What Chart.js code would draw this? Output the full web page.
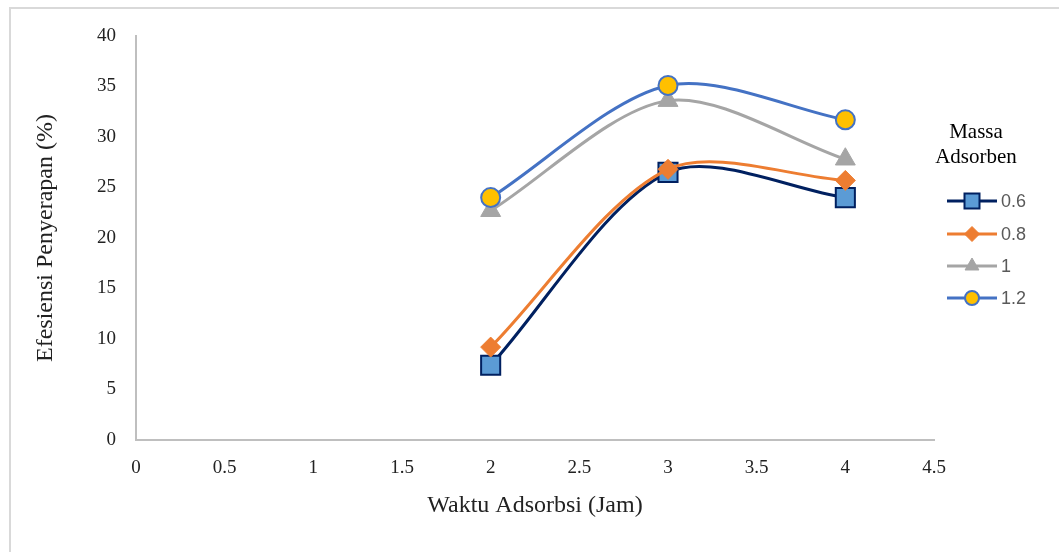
<!DOCTYPE html>
<html>
<head>
<meta charset="utf-8">
<script src="https://cdn.jsdelivr.net/npm/chart.js@4/dist/chart.umd.min.js"></script>
<style>
  html, body { margin: 0; padding: 0; background: #fff; }
  #wrap { position: relative; width: 1059px; height: 552px; overflow: hidden; }
  #frame {
    position: absolute; left: 9px; top: 7px; width: 1060px; height: 560px;
    border-top: 2px solid #d9d9d9; border-left: 2px solid #d9d9d9;
  }
  #chart { position: absolute; left: 0; top: 0; }
</style>
</head>
<body>
<div id="wrap">
  <div id="frame"></div>
  <canvas id="chart" width="1059" height="552"></canvas>
</div>
<script>
// waktu adsorbsi (jam)
const waktu = [2, 3, 4];

// efisiensi penyerapan (%) per massa adsorben
const massa06 = [7.4, 26.5, 24.0];
const massa08 = [9.2, 26.8, 25.7];
const massa1 = [22.7, 33.6, 27.8];
const massa12 = [24.0, 35.1, 31.7];

const seriesLabels = ["0.6", "0.8", "1", "1.2"];
const xTicks = [0, 0.5, 1, 1.5, 2, 2.5, 3, 3.5, 4, 4.5];
const yTicks = [0, 5, 10, 15, 20, 25, 30, 35, 40];

const serif = "'Liberation Serif', 'Times New Roman', serif";
const sans = "'Liberation Sans', Arial, sans-serif";

const styles = [
  { line: "#002060", fill: "#5b9bd5", border: "#002060", point: "rect", radius: 13.5, bw: 2 },
  { line: "#ed7d31", fill: "#ed7d31", border: "#ed7d31", point: "rectRot", radius: 10, bw: 1 },
  { line: "#a5a5a5", fill: "#a5a5a5", border: "#a5a5a5", point: "triangle", radius: 11.5, bw: 1 },
  { line: "#4472c4", fill: "#ffc000", border: "#4472c4", point: "circle", radius: 9.5, bw: 2 },
];

const values = [massa06, massa08, massa1, massa12];

const datasets = values.map((vals, i) => ({
  label: seriesLabels[i],
  data: vals.map((v, j) => ({ x: waktu[j], y: v })),
  order: values.length - 1 - i, // later series sit on top
  borderColor: styles[i].line,
  borderWidth: 3,
  backgroundColor: styles[i].fill,
  pointStyle: styles[i].point,
  pointRadius: styles[i].radius,
  pointHoverRadius: styles[i].radius,
  pointBackgroundColor: styles[i].fill,
  pointBorderColor: styles[i].border,
  pointBorderWidth: styles[i].bw,
  tension: 0.3,
  fill: false,
  clip: false,
}));

// legend on the right, with a two line title
const sideLegend = {
  id: "sideLegend",
  afterDraw(chart) {
    const ctx = chart.ctx;
    ctx.save();
    ctx.fillStyle = "#000";
    ctx.font = "21px " + serif;
    ctx.textAlign = "center";
    ctx.textBaseline = "middle";
    ctx.fillText("Massa", 976, 132);
    ctx.fillText("Adsorben", 976, 157);

    const rows = [201, 234, 266, 298];
    const small = [7.5, 7.5, 8, 7];
    styles.forEach((s, i) => {
      const y = rows[i];
      ctx.strokeStyle = s.line;
      ctx.lineWidth = 3;
      ctx.beginPath();
      ctx.moveTo(947, y);
      ctx.lineTo(997, y);
      ctx.stroke();
      ctx.fillStyle = s.fill;
      ctx.strokeStyle = s.border;
      ctx.lineWidth = s.bw;
      const r = s.point === "rect" ? small[i] * Math.SQRT2 : small[i];
      if (Chart.helpers && Chart.helpers.drawPoint) {
        Chart.helpers.drawPoint(ctx, { pointStyle: s.point, radius: r, borderWidth: s.bw, rotation: 0 }, 972, y);
      }
      ctx.fillStyle = "#595959";
      ctx.font = "18px " + sans;
      ctx.textAlign = "left";
      ctx.fillText(seriesLabels[i], 1001, y + 1);
    });
    ctx.restore();
  },
};

new Chart(document.getElementById("chart"), {
  type: "line",
  data: { datasets },
  options: {
    responsive: false,
    animation: false,
    devicePixelRatio: 1,
    layout: { padding: { top: 36, right: 125, left: 0, bottom: 0 } },
    plugins: {
      legend: { display: false },
      tooltip: { enabled: false },
    },
    scales: {
      x: {
        type: "linear",
        min: 0,
        max: 4.5,
        afterBuildTicks: (scale) => { scale.ticks = xTicks.map((v) => ({ value: v })); },
        afterFit: (scale) => { scale.height = 112; },
        grid: { display: false },
        border: { display: true, color: "#bfbfbf", width: 2 },
        ticks: {
          color: "#222",
          font: { family: serif, size: 19 },
          padding: 9,
          maxRotation: 0,
          callback: (v) => String(v),
        },
        title: {
          display: true,
          text: "Waktu Adsorbsi (Jam)",
          color: "#222",
          font: { family: serif, size: 24 },
          padding: { top: 0, bottom: 32 },
        },
      },
      y: {
        type: "linear",
        min: 0,
        max: 40,
        afterBuildTicks: (scale) => { scale.ticks = yTicks.map((v) => ({ value: v })); },
        afterFit: (scale) => { scale.width = 136; },
        grid: { display: false },
        border: { display: true, color: "#bfbfbf", width: 2 },
        ticks: {
          color: "#222",
          font: { family: serif, size: 19 },
          padding: 12,
          callback: (v) => String(v),
        },
        title: {
          display: true,
          text: "Efesiensi Penyerapan (%)",
          color: "#222",
          font: { family: serif, size: 24 },
          padding: { top: 31, bottom: 0 },
        },
      },
    },
  },
  plugins: [sideLegend],
});
</script>
</body>
</html>
